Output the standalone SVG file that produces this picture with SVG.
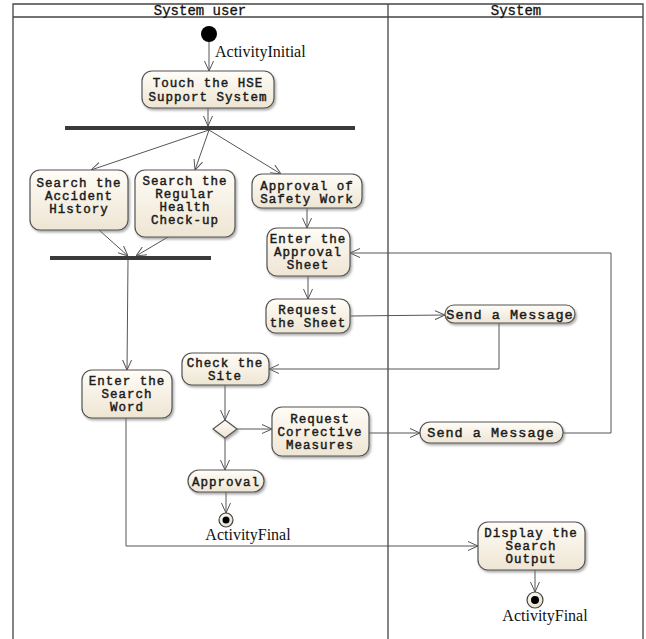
<svg xmlns="http://www.w3.org/2000/svg" width="646" height="639" viewBox="0 0 646 639">
  <defs>
    <linearGradient id="nodeFill" x1="0" y1="0" x2="0" y2="1">
      <stop offset="0" stop-color="#fffdf7"/>
      <stop offset="1" stop-color="#eee5d3"/>
    </linearGradient>
    <filter id="shadow" x="-10%" y="-10%" width="130%" height="140%">
      <feDropShadow dx="1.5" dy="2" stdDeviation="1.2" flood-color="#777" flood-opacity="0.6"/>
    </filter>
    <marker id="arrow" viewBox="0 0 10 10" refX="10" refY="5" markerWidth="10" markerHeight="10" markerUnits="userSpaceOnUse" orient="auto">
      <path d="M0,0.5 L10,5 L0,9.5" fill="none" stroke="#555" stroke-width="1"/>
    </marker>
    <radialGradient id="finalRing" cx="0.4" cy="0.35" r="0.7">
      <stop offset="0" stop-color="#ffffff"/>
      <stop offset="1" stop-color="#e6dcc6"/>
    </radialGradient>
  </defs>
  <style>
    .frame { stroke: #444; stroke-width: 1.3; fill: none; }
    .lane { font-family: "Liberation Mono", "DejaVu Sans Mono", monospace; font-size: 14px; fill: #111; stroke: #111; stroke-width: 0.3; text-anchor: middle; }
    .box { fill: url(#nodeFill); stroke: #555; stroke-width: 1.2; filter: url(#shadow); }
    .label { font-family: "Liberation Mono", "DejaVu Sans Mono", monospace; font-size: 12.5px; letter-spacing: 1px; fill: #1a1a1a; stroke: #1a1a1a; stroke-width: 0.45; text-anchor: middle; }
    .big { font-size: 13.5px; }
    .caption { font-family: "Liberation Serif", "Times New Roman", serif; font-size: 16px; fill: #111; }
    .edge { fill: none; stroke: #555; stroke-width: 1; marker-end: url(#arrow); }
    .bar { fill: #3a3a3a; }
  </style>

  <rect width="646" height="639" fill="#ffffff"/>

  <!-- swimlane frame -->
  <g id="lanes">
    <path class="frame" d="M13,639 V4 H643 V639"/>
    <line class="frame" x1="13" y1="17" x2="643" y2="17"/>
    <line class="frame" x1="388" y1="4" x2="388" y2="639"/>
    <text class="lane" x="200" y="15">System user</text>
    <text class="lane" x="516" y="15">System</text>
  </g>

  <!-- connectors -->
  <g id="connectors">
    <line class="edge" x1="209" y1="42" x2="209" y2="71"/>
    <line class="edge" x1="208" y1="108" x2="208" y2="126"/>
    <line class="edge" x1="209" y1="130" x2="91" y2="170"/>
    <line class="edge" x1="209" y1="130" x2="195" y2="170"/>
    <line class="edge" x1="209" y1="130" x2="281" y2="174"/>
    <line class="edge" x1="99" y1="230" x2="128" y2="256"/>
    <line class="edge" x1="173" y1="234" x2="136" y2="256"/>
    <line class="edge" x1="128" y1="260" x2="127" y2="370"/>
    <line class="edge" x1="307" y1="208" x2="307" y2="228"/>
    <line class="edge" x1="308" y1="276" x2="308" y2="299"/>
    <line class="edge" x1="350" y1="316" x2="445" y2="315"/>
    <polyline class="edge" points="499,323 499,369 269,369"/>
    <line class="edge" x1="225" y1="385" x2="225" y2="420"/>
    <line class="edge" x1="237" y1="429" x2="272" y2="429"/>
    <line class="edge" x1="225" y1="438" x2="225" y2="470"/>
    <line class="edge" x1="226" y1="492" x2="226" y2="513"/>
    <line class="edge" x1="369" y1="433" x2="420" y2="433"/>
    <polyline class="edge" points="563,433 611,433 611,253 350,253"/>
    <polyline class="edge" points="126,418 126,546 478,546"/>
    <line class="edge" x1="535" y1="570" x2="535" y2="592"/>
  </g>

  <!-- start -->
  <g id="initial">
    <circle cx="209" cy="34" r="8" fill="#000"/>
    <text class="caption" x="215" y="57">ActivityInitial</text>
  </g>

  <g id="touch">
    <rect class="box" x="142" y="71" width="132" height="37" rx="10"/>
    <text class="label" x="208" y="87">Touch the HSE</text>
    <text class="label" x="208" y="101">Support System</text>
  </g>

  <g id="fork">
    <rect class="bar" x="65" y="126" width="290" height="4"/>
  </g>

  <g id="accident">
    <rect class="box" x="30" y="170" width="98" height="60" rx="10"/>
    <text class="label" x="79" y="187">Search the</text>
    <text class="label" x="79" y="200">Accident</text>
    <text class="label" x="79" y="213">History</text>
  </g>

  <g id="health">
    <rect class="box" x="135" y="170" width="100" height="67" rx="10"/>
    <text class="label" x="185" y="185">Search the</text>
    <text class="label" x="185" y="198">Regular</text>
    <text class="label" x="185" y="211">Health</text>
    <text class="label" x="185" y="224">Check-up</text>
  </g>

  <g id="safety">
    <rect class="box" x="252" y="174" width="110" height="34" rx="10"/>
    <text class="label" x="307" y="190">Approval of</text>
    <text class="label" x="307" y="203">Safety Work</text>
  </g>

  <g id="join">
    <rect class="bar" x="50" y="256" width="161" height="4"/>
  </g>

  <g id="sheet">
    <rect class="box" x="267" y="228" width="83" height="48" rx="10"/>
    <text class="label" x="308" y="243">Enter the</text>
    <text class="label" x="308" y="256">Approval</text>
    <text class="label" x="308" y="269">Sheet</text>
  </g>

  <g id="request">
    <rect class="box" x="266" y="299" width="84" height="34" rx="10"/>
    <text class="label" x="308" y="314">Request</text>
    <text class="label" x="308" y="327">the Sheet</text>
  </g>

  <g id="message1">
    <rect class="box" x="445" y="305" width="130" height="18" rx="9"/>
    <text class="label big" x="510" y="319">Send a Message</text>
  </g>

  <g id="site">
    <rect class="box" x="182" y="353" width="87" height="32" rx="10"/>
    <text class="label" x="225" y="367">Check the</text>
    <text class="label" x="225" y="380">Site</text>
  </g>

  <g id="searchword">
    <rect class="box" x="82" y="370" width="90" height="48" rx="10"/>
    <text class="label" x="127" y="385">Enter the</text>
    <text class="label" x="127" y="398">Search</text>
    <text class="label" x="127" y="411">Word</text>
  </g>

  <g id="decision">
    <polygon points="225,420 237,429 225,438 213,429" fill="url(#nodeFill)" stroke="#555" stroke-width="1.2" filter="url(#shadow)"/>
  </g>

  <g id="corrective">
    <rect class="box" x="272" y="407" width="97" height="49" rx="10"/>
    <text class="label" x="320" y="423">Request</text>
    <text class="label" x="320" y="436">Corrective</text>
    <text class="label" x="320" y="449">Measures</text>
  </g>

  <g id="message2">
    <rect class="box" x="420" y="422" width="143" height="21" rx="10"/>
    <text class="label big" x="491" y="437">Send a Message</text>
  </g>

  <g id="approval">
    <rect class="box" x="188" y="470" width="76" height="22" rx="11"/>
    <text class="label" x="226" y="486">Approval</text>
  </g>

  <g id="final1">
    <circle cx="226" cy="520" r="7" fill="url(#finalRing)" stroke="#444" stroke-width="1.2"/>
    <circle cx="226" cy="520" r="3.5" fill="#000"/>
    <text class="caption" x="248" y="540" text-anchor="middle">ActivityFinal</text>
  </g>

  <g id="display">
    <rect class="box" x="478" y="522" width="107" height="48" rx="10"/>
    <text class="label" x="531" y="537">Display the</text>
    <text class="label" x="531" y="550">Search</text>
    <text class="label" x="531" y="563">Output</text>
  </g>

  <g id="final2">
    <circle cx="535" cy="600" r="8" fill="url(#finalRing)" stroke="#444" stroke-width="1.2"/>
    <circle cx="535" cy="600" r="4" fill="#000"/>
    <text class="caption" x="545" y="621" text-anchor="middle">ActivityFinal</text>
  </g>
</svg>
